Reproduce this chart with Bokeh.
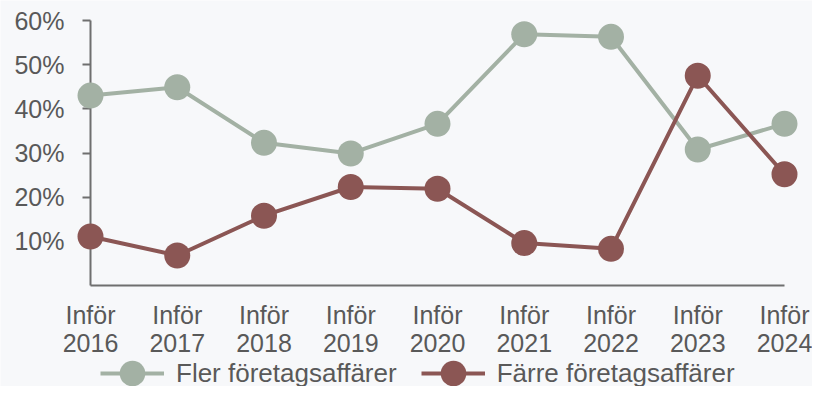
from bokeh.plotting import figure
from bokeh.models import Range1d, FixedTicker, Legend, LegendItem, ColumnDataSource
from bokeh.embed import file_html
from bokeh.resources import INLINE

categories = ["Inför\n2016", "Inför\n2017", "Inför\n2018", "Inför\n2019", "Inför\n2020",
              "Inför\n2021", "Inför\n2022", "Inför\n2023", "Inför\n2024"]
fler = [43.0, 44.9, 32.3, 29.9, 36.6, 56.9, 56.3, 30.8, 36.6]
farre = [11.1, 6.8, 15.8, 22.3, 21.9, 9.6, 8.3, 47.5, 25.2]
y_ticks = [10, 20, 30, 40, 50, 60]
series_names = ["Fler företagsaffärer", "Färre företagsaffärer"]

GREEN = "#a3b1a4"
RED = "#8b5654"
TEXT = "#595959"
AXIS = "#6f6f6f"
BG = "#f7f8fa"
FONT = "Liberation Sans"

W, H = 812, 386
# pixel layout of the plotting area (inside the figure)
X0_PX, XN_PX = 90, 784      # first / last category centre
Y0_PX, YTOP_PX = 285, 20    # 0% and 60%
n = len(categories)
ppx = (XN_PX - X0_PX) / (n - 1)
ppy = (Y0_PX - YTOP_PX) / 60.0

xs = list(range(n))
src = ColumnDataSource(dict(x=xs, fler=fler, farre=farre))

p = figure(width=W, height=H, output_backend="svg", toolbar_location=None,
           x_range=Range1d(-X0_PX / ppx, (n - 1) + (W - XN_PX) / ppx),
           y_range=Range1d(-(H - Y0_PX) / ppy, 60 + YTOP_PX / ppy),
           min_border_left=0, min_border_right=0, min_border_top=0, min_border_bottom=0)
p.background_fill_color = BG
p.border_fill_color = BG
p.outline_line_color = None
p.grid.visible = False

l1 = p.line("x", "fler", source=src, line_color=GREEN, line_width=4)
c1 = p.scatter("x", "fler", source=src, size=26, fill_color=GREEN, line_color=None)
l2 = p.line("x", "farre", source=src, line_color=RED, line_width=4)
c2 = p.scatter("x", "farre", source=src, size=26, fill_color=RED, line_color=None)

# y axis
ya = p.yaxis[0]
ya.fixed_location = 0
ya.bounds = (0, 60)
ya.level = "underlay"
ya.ticker = FixedTicker(ticks=y_ticks)
ya.major_label_overrides = {t: f"{t}%" for t in y_ticks}
ya.major_label_text_font = FONT
ya.major_label_text_font_size = "25px"
ya.major_label_text_color = TEXT
ya.major_tick_out = 8
ya.major_tick_in = 0
ya.minor_tick_line_color = None
ya.axis_line_color = AXIS
ya.axis_line_width = 2
ya.major_tick_line_color = AXIS
ya.major_tick_line_width = 2
ya.major_label_standoff = 18

# x axis
xa = p.xaxis[0]
xa.fixed_location = 0
xa.bounds = (0, n - 1)
xa.level = "underlay"
xa.ticker = FixedTicker(ticks=xs)
xa.major_label_overrides = {i: c for i, c in zip(xs, categories)}
xa.major_label_text_font = FONT
xa.major_label_text_font_size = "25px"
xa.major_label_text_color = TEXT
xa.major_label_text_line_height = 1.0
xa.major_tick_line_color = None
xa.minor_tick_line_color = None
xa.axis_line_color = AXIS
xa.axis_line_width = 2
xa.major_label_standoff = 9

legend = Legend(items=[LegendItem(label=series_names[0], renderers=[l1, c1]),
                       LegendItem(label=series_names[1], renderers=[l2, c2])],
                orientation="horizontal", location=(100, -19),
                glyph_width=64, glyph_height=64, label_standoff=12, spacing=24,
                label_text_font=FONT, label_text_font_size="26px", label_text_color=TEXT,
                background_fill_alpha=0, border_line_color=None, padding=0, margin=0)
p.add_layout(legend, "center")

open("out.html", "w").write(file_html(p, INLINE))
